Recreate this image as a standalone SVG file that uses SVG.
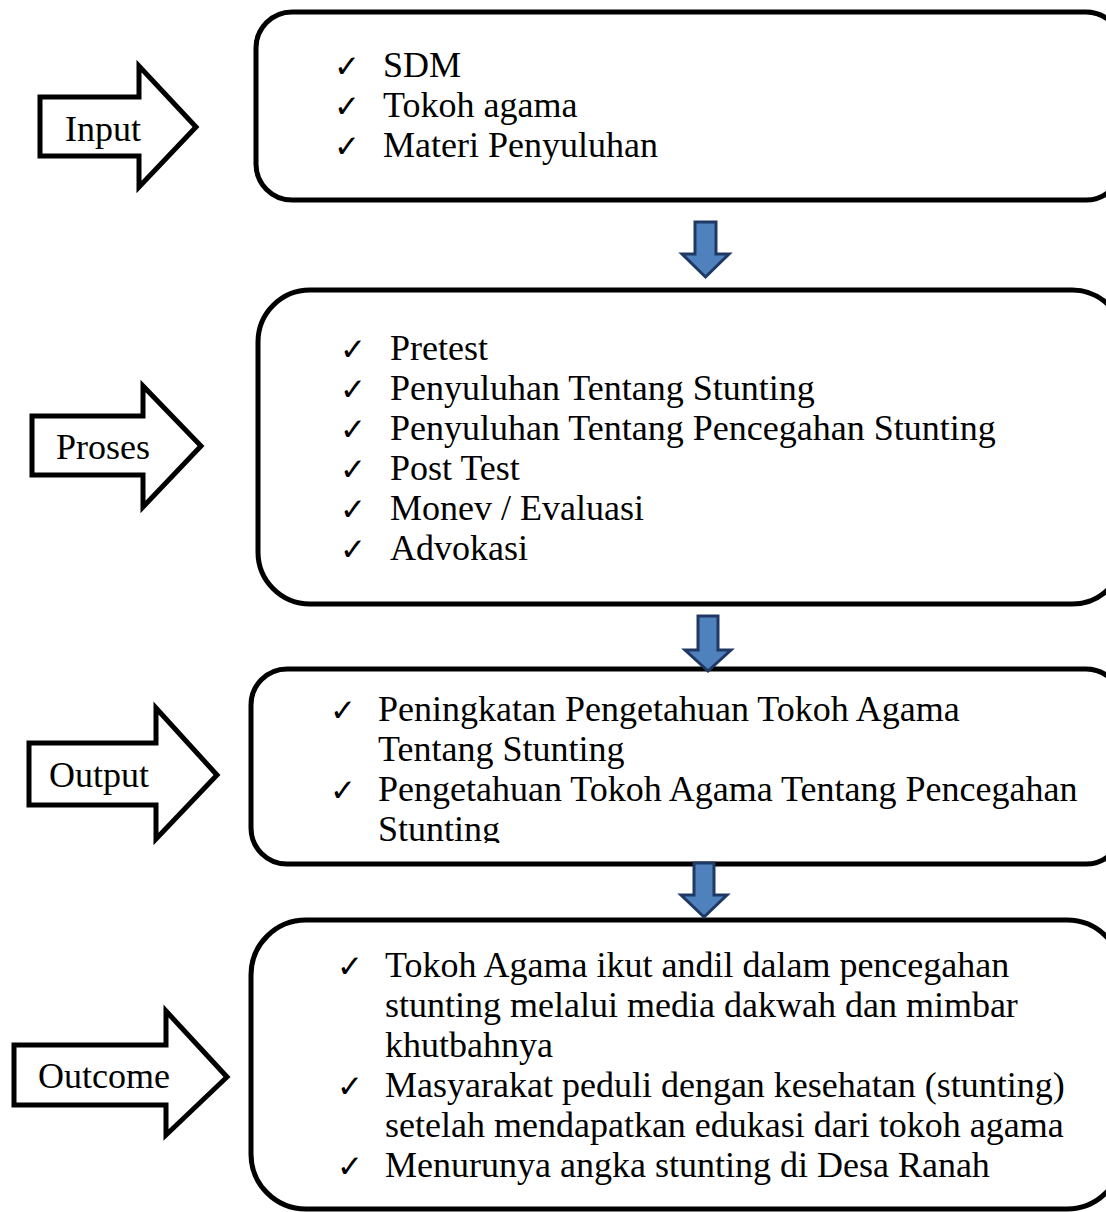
<svg xmlns="http://www.w3.org/2000/svg" width="1106" height="1212" viewBox="0 0 1106 1212">
<style>
.box{fill:#fff;stroke:#000;stroke-width:5}
.big{fill:#fff;stroke:#000;stroke-width:5;stroke-linejoin:miter}
.blue{fill:#4f81bd;stroke:#1f3864;stroke-width:3;stroke-linejoin:miter}
.t{font-family:"Liberation Serif","DejaVu Serif",serif;font-size:36px;fill:#000}
.ck{font-family:"DejaVu Sans",sans-serif;font-size:31px;fill:#000}
</style>
<defs>
<clipPath id="c3"><rect x="0" y="660" width="1106" height="183"/></clipPath>
</defs>
<rect x="0" y="0" width="1106" height="1212" fill="#fff"/>

<g id="input-arrow">
<polygon class="big" points="40,97 139,97 139,66 196,127 139,187 139,156 40,156"/>
<text class="t" x="65" y="141">Input</text>
</g>
<g id="proses-arrow">
<polygon class="big" points="32,416 143,416 143,386 201,446 143,507 143,475 32,475"/>
<text class="t" x="56" y="459">Proses</text>
</g>
<g id="output-arrow">
<polygon class="big" points="29,743 156,743 156,708 217,775 156,839 156,805 29,805"/>
<text class="t" x="49" y="787">Output</text>
</g>
<g id="outcome-arrow">
<polygon class="big" points="14,1045 166,1045 166,1011 227,1077 166,1135 166,1105 14,1105"/>
<text class="t" x="38" y="1088">Outcome</text>
</g>

<g id="input-box">
<rect class="box" x="256" y="12" width="866" height="188" rx="36" ry="36"/>
<text class="ck" x="334" y="77">✓</text><text class="t" x="383" y="77">SDM</text>
<text class="ck" x="334" y="117">✓</text><text class="t" x="383" y="117">Tokoh agama</text>
<text class="ck" x="334" y="157">✓</text><text class="t" x="383" y="157">Materi Penyuluhan</text>
</g>

<g id="proses-box">
<rect class="box" x="258" y="290" width="866" height="314" rx="52" ry="52"/>
<text class="ck" x="340" y="360">✓</text><text class="t" x="390" y="360">Pretest</text>
<text class="ck" x="340" y="400">✓</text><text class="t" x="390" y="400">Penyuluhan Tentang Stunting</text>
<text class="ck" x="340" y="440">✓</text><text class="t" x="390" y="440">Penyuluhan Tentang Pencegahan Stunting</text>
<text class="ck" x="340" y="480">✓</text><text class="t" x="390" y="480">Post Test</text>
<text class="ck" x="340" y="520">✓</text><text class="t" x="390" y="520">Monev / Evaluasi</text>
<text class="ck" x="340" y="560">✓</text><text class="t" x="390" y="560">Advokasi</text>
</g>

<g id="output-box">
<rect class="box" x="251" y="669" width="871" height="195" rx="36" ry="36"/>
<g clip-path="url(#c3)">
<text class="ck" x="330" y="721">✓</text><text class="t" x="378" y="721">Peningkatan Pengetahuan Tokoh Agama</text>
<text class="t" x="378" y="761">Tentang Stunting</text>
<text class="ck" x="330" y="801">✓</text><text class="t" x="378" y="801">Pengetahuan Tokoh Agama Tentang Pencegahan</text>
<text class="t" x="378" y="841">Stunting</text>
</g>
</g>

<g id="outcome-box">
<rect class="box" x="251" y="920" width="871" height="289" rx="55" ry="55"/>
<text class="ck" x="337" y="977">✓</text><text class="t" x="385" y="977">Tokoh Agama ikut andil dalam pencegahan</text>
<text class="t" x="385" y="1017">stunting melalui media dakwah dan mimbar</text>
<text class="t" x="385" y="1057">khutbahnya</text>
<text class="ck" x="337" y="1097">✓</text><text class="t" x="385" y="1097">Masyarakat peduli dengan kesehatan (stunting)</text>
<text class="t" x="385" y="1137">setelah mendapatkan edukasi dari tokoh agama</text>
<text class="ck" x="337" y="1177">✓</text><text class="t" x="385" y="1177">Menurunya angka stunting di Desa Ranah</text>
</g>

<g id="connectors">
<polygon class="blue" points="695,222 716,222 716,254 729,254 705.5,277 682,254 695,254"/>
<polygon class="blue" points="698,616 718,616 718,650 731,650 708,671 685,650 698,650"/>
<polygon class="blue" points="694,863 714,863 714,895 727,895 704,917 681,895 694,895"/>
</g>
</svg>
